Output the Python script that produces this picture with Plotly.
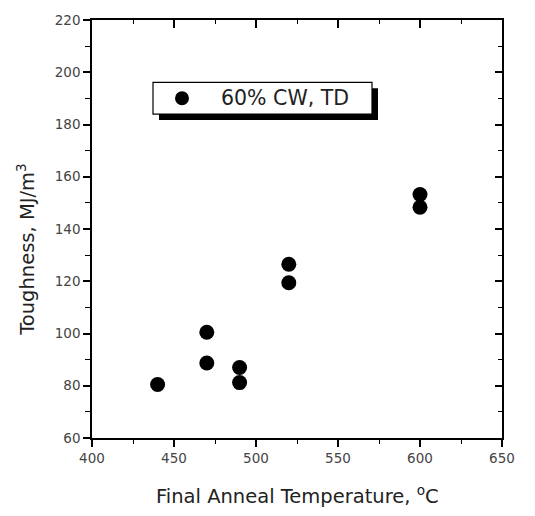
import plotly.graph_objects as go

temps = [440, 470, 470, 490, 490, 520, 520, 600, 600]
toughness = [80.5, 100.5, 88.7, 87.0, 81.2, 126.5, 119.4, 148.3, 153.2]
series_name = "60% CW, TD"
x_ticks = [400, 450, 500, 550, 600, 650]
y_ticks = [60, 80, 100, 120, 140, 160, 180, 200, 220]

W, H = 535, 516
ml, mr, mt, mb = 92, 33, 16, 78
pw, ph = W - ml - mr, H - mt - mb

def px(xp):
    return (xp - ml) / pw

def py(yp):
    return 1 - (yp - mt) / ph

FONT = "DejaVu Sans, Arial"
tickfont = dict(family=FONT, size=13.5, color="#444")

fig = go.Figure()
fig.add_trace(go.Scatter(x=temps, y=toughness, mode="markers", name=series_name,
                         marker=dict(size=15, color="black"), showlegend=False))
# invisible trace to activate the mirrored (inside-tick) axes
fig.add_trace(go.Scatter(x=[None], y=[None], xaxis="x2", yaxis="y2", showlegend=False))

common = dict(showgrid=False, zeroline=False, linecolor="black", linewidth=1.5)
fig.update_layout(
    width=W, height=H, margin=dict(l=ml, r=mr, t=mt, b=mb),
    paper_bgcolor="white", plot_bgcolor="white",
    xaxis=dict(range=[400, 650], tickvals=x_ticks, ticks="outside", ticklen=7, tickwidth=1.5,
               tickcolor="black", tickfont=tickfont, showline=True,
               minor=dict(dtick=25, tick0=400, ticks="outside", ticklen=4, tickcolor="black", tickwidth=1.2),
               **common),
    yaxis=dict(range=[60, 220], tickvals=y_ticks, ticks="outside", ticklen=7, tickwidth=1.5,
               tickcolor="black", tickfont=tickfont, showline=True,
               minor=dict(dtick=10, tick0=60, ticks="outside", ticklen=5, tickcolor="black", tickwidth=1.2),
               **common),
    xaxis2=dict(range=[400, 650], overlaying="x", side="top", tickvals=x_ticks, ticks="inside",
                ticklen=8, tickwidth=1.5, tickcolor="black", showticklabels=False, showline=True,
                minor=dict(dtick=25, tick0=400, ticks="inside", ticklen=4, tickcolor="black", tickwidth=1.2),
                **common),
    yaxis2=dict(range=[60, 220], overlaying="y", side="right", tickvals=y_ticks, ticks="inside",
                ticklen=7, tickwidth=1.5, tickcolor="black", showticklabels=False, showline=True,
                minor=dict(dtick=10, tick0=60, ticks="inside", ticklen=4, tickcolor="black", tickwidth=1.2),
                **common),
)

titlefont = dict(family=FONT, size=19.5, color="#222")
fig.add_annotation(text="Final Anneal Temperature, <sup>o</sup>C", xref="paper", yref="paper",
                   x=px(297), y=py(496), showarrow=False, font=titlefont,
                   xanchor="center", yanchor="middle")
fig.add_annotation(text="Toughness, MJ/m<sup>3</sup>", xref="paper", yref="paper",
                   x=px(26), y=py(248), showarrow=False, font=titlefont, textangle=-90,
                   xanchor="center", yanchor="middle")

# legend box with drop shadow
bx0, bx1, by0, by1 = 153, 372, 79, 111
fig.add_shape(type="rect", xref="paper", yref="paper", x0=px(bx0 + 6), x1=px(bx1 + 6),
              y0=py(by1 + 6), y1=py(by0 + 6), fillcolor="black", line=dict(width=0))
fig.add_shape(type="rect", xref="paper", yref="paper", x0=px(bx0), x1=px(bx1),
              y0=py(by1), y1=py(by0), fillcolor="white", line=dict(color="black", width=1.2))
r = 7
fig.add_shape(type="circle", xref="paper", yref="paper", x0=px(182 - r), x1=px(182 + r),
              y0=py(95 + r), y1=py(95 - r), fillcolor="black", line=dict(width=0))
fig.add_annotation(text=series_name, xref="paper", yref="paper", x=px(219), y=py(95),
                   showarrow=False, xanchor="left", yanchor="middle",
                   font=dict(family=FONT, size=20.5, color="#222"))

fig.write_html("out.html")
